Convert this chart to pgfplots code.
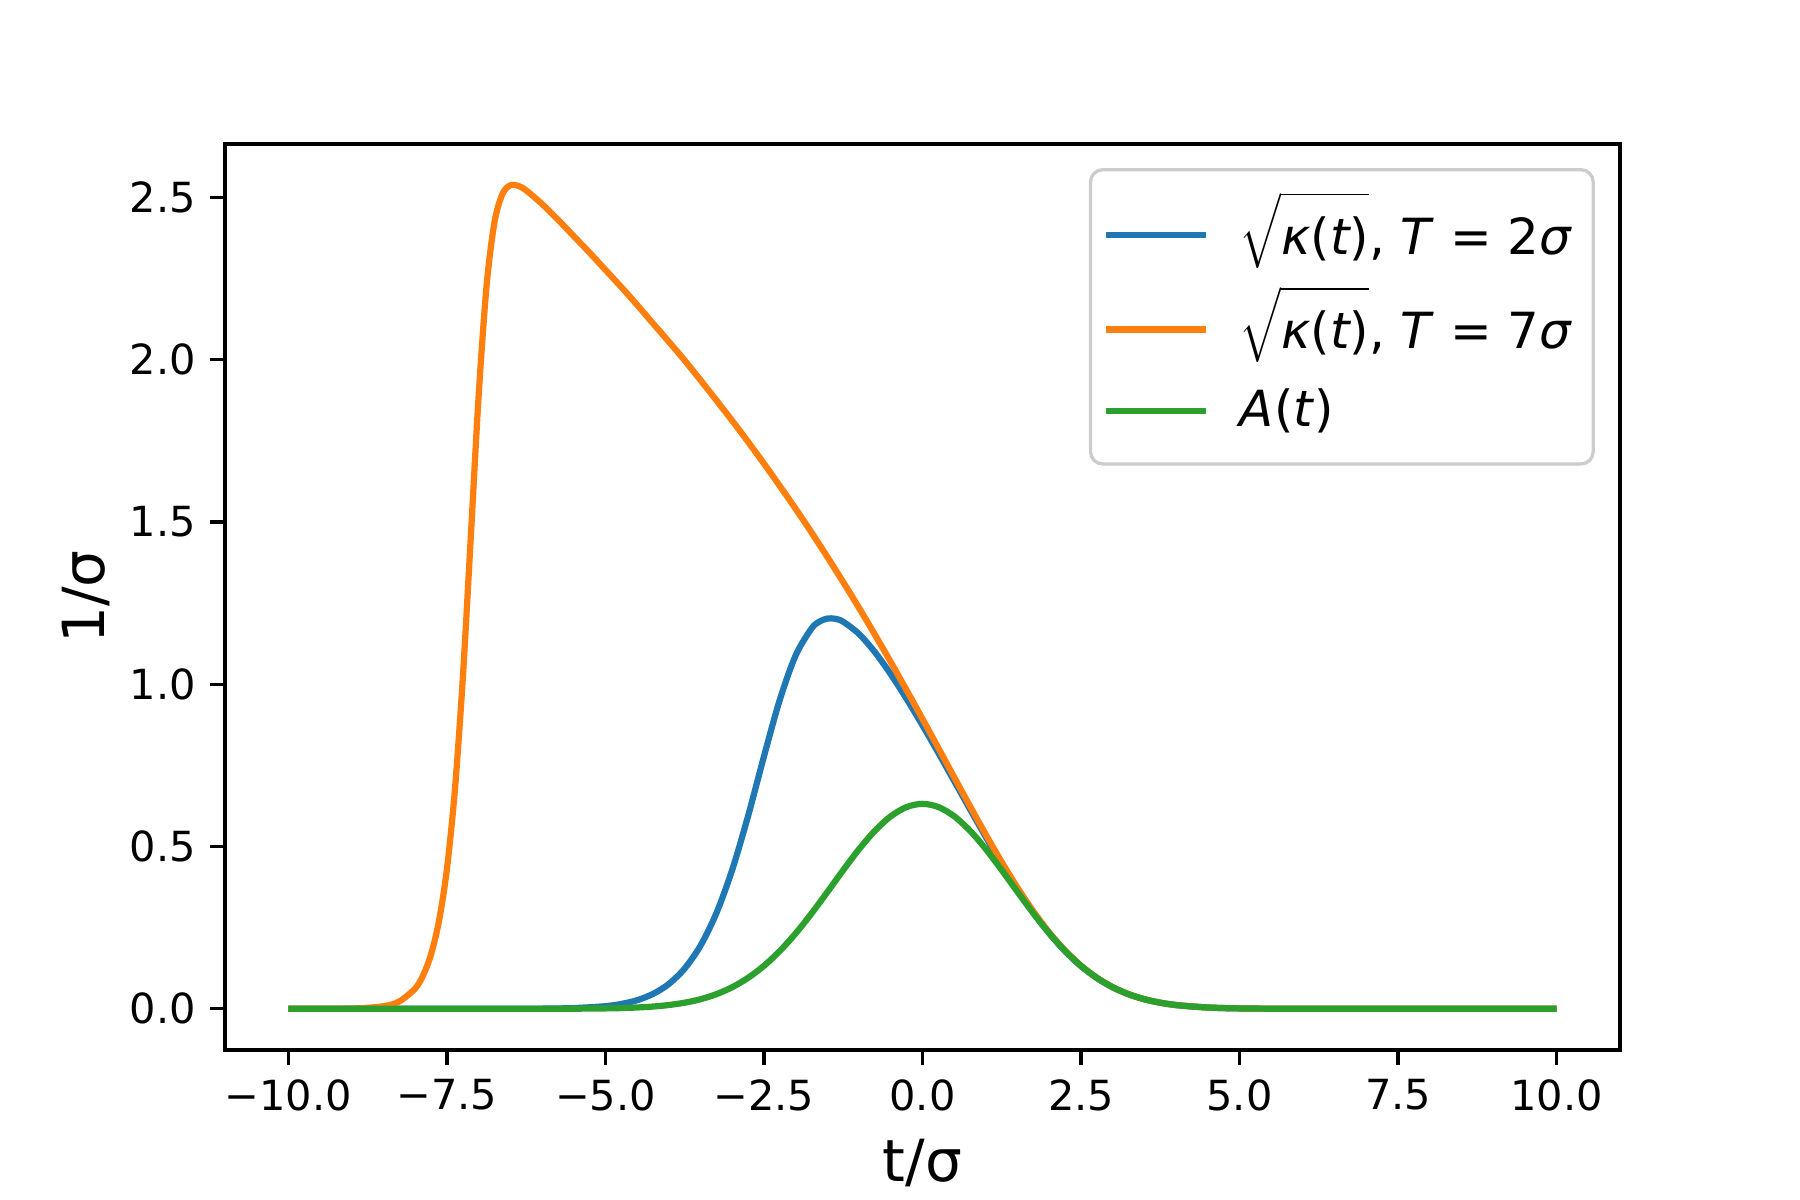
\documentclass[border=0pt]{standalone}
\usepackage{fontspec}
\setmainfont{DejaVu Sans}
\usepackage{pgfplots}
\pgfplotsset{compat=1.18}

\definecolor{cblue}{HTML}{1F77B4}
\definecolor{corange}{HTML}{FF7F0E}
\definecolor{cgreen}{HTML}{2CA02C}

\newcommand{\sqk}{\raisebox{0pt}[13pt][8.6pt]{$\sqrt{\rule{0pt}{12pt}\hbox{\itshape κ\upshape(\itshape t\upshape)}}$}}
\newcommand{\kentry}[1]{\raisebox{2.2pt}{\sqk, \textit{T} = #1\textit{σ}}}

\begin{document}
\begin{tikzpicture}
\path[use as bounding box] (0,0) rectangle (6in,4in);
\begin{axis}[
    at={(0.75in,0.5in)}, anchor=south west,
    width=4.65in, height=3.02in, scale only axis,
    xmin=-11, xmax=11, ymin=-0.127, ymax=2.665,
    xtick={-10,-7.5,-5,-2.5,0,2.5,5,7.5,10},
    xticklabels={−10.0,−7.5,−5.0,−2.5,0.0,2.5,5.0,7.5,10.0},
    ytick={0,0.5,1,1.5,2,2.5},
    yticklabels={0.0,0.5,1.0,1.5,2.0,2.5},
    xtick pos=bottom, ytick pos=left,
    tick align=outside, major tick length=3.5pt,
    tick style={line width=0.8pt, black},
    axis line style={line width=0.8pt},
    tick label style={font=\fontsize{10}{12}\selectfont},
    xlabel={t/σ}, ylabel={1/σ},
    label style={font=\fontsize{14}{17}\selectfont},
    ylabel style={yshift=-2pt},
    legend cell align=left,
    legend image code/.code={\draw[#1, line width=1.5pt] (0pt,0pt) -- (24pt,0pt);},
    legend style={at={(rel axis cs:0.982,0.9735)}, anchor=north east,
        draw=black!20, line width=0.8pt, rounded corners=3pt, fill=white,
        font=\fontsize{12}{14}\selectfont, inner xsep=3pt, inner ysep=5.45pt,
        row sep=2pt, column sep=5.5pt},
    every axis plot/.append style={line width=1.5pt, line join=round, smooth, tension=0.5},
]
% sqrt(kappa), T = 2 sigma
\addplot[cblue] coordinates {
(-10,0) (-6.5,0) (-6,0.0005) (-5.5,0.0022) (-5,0.0081) (-4.75,0.0149)
(-4.5,0.0265) (-4.25,0.0458) (-4,0.0766) (-3.75,0.1243) (-3.5,0.1949)
(-3.25,0.2949) (-3,0.4288) (-2.75,0.5945) (-2.5,0.7780) (-2.25,0.9526)
(-2,1.0893) (-1.75,1.1720) (-1.625,1.1933) (-1.5,1.2026) (-1.375,1.2019)
(-1.25,1.1927) (-1,1.1549) (-0.75,1.0989) (-0.5,1.0309) (-0.25,0.9549)
(0,0.8736) (0.25,0.7888) (0.5,0.7021) (0.75,0.6150) (1,0.5292)
(1.25,0.4463) (1.5,0.3681) (1.75,0.2963) (2,0.2324) (2.25,0.1772)
(2.5,0.1313) (2.75,0.0944) (3,0.0659) (3.25,0.0446) (3.5,0.0292)
(3.75,0.0186) (4,0.0114) (4.5,0.0040) (5,0.0012) (6,0.0001) (10,0)
};
\addlegendentry{\kentry{2}}
% sqrt(kappa), T = 7 sigma
\addplot[corange] coordinates {
(-10,0) (-9,0.0009) (-8.5,0.0080) (-8.25,0.0228) (-8,0.0628) (-7.875,0.1031)
(-7.75,0.1680) (-7.625,0.2707) (-7.5,0.4305) (-7.375,0.6732) (-7.25,1.0175)
(-7.125,1.4490) (-7,1.8890) (-6.875,2.2280) (-6.75,2.4240) (-6.625,2.5110)
(-6.5,2.5380) (-6.375,2.5360) (-6.25,2.5220) (-6,2.4800) (-5.75,2.4320)
(-5.5,2.3810) (-5.25,2.3300) (-5,2.2770) (-4.75,2.2240) (-4.5,2.1690)
(-4.25,2.1120) (-4,2.0555) (-3.75,1.9980) (-3.5,1.9370) (-3.25,1.8750)
(-3,1.8120) (-2.75,1.7470) (-2.5,1.6800) (-2.25,1.6110) (-2,1.5405)
(-1.75,1.4676) (-1.5,1.3923) (-1.25,1.3148) (-1,1.2350) (-0.75,1.1527)
(-0.5,1.0682) (-0.25,0.9816) (0,0.8932) (0.25,0.8036) (0.5,0.7136)
(0.75,0.6240) (1,0.5363) (1.25,0.4519) (1.5,0.3726) (1.75,0.2998)
(2,0.2350) (2.25,0.1793) (2.5,0.1328) (2.75,0.0955) (3,0.0666)
(3.25,0.0450) (3.5,0.0295) (3.75,0.0188) (4,0.0116) (4.5,0.0040)
(5,0.0012) (6,0.0001) (10,0)
};
\addlegendentry{\kentry{7}}
% A(t)
\addplot[cgreen] coordinates {
(-10,0) (-6,0.0001) (-5.5,0.0003) (-5,0.0012) (-4.75,0.0022) (-4.5,0.0040)
(-4.25,0.0069) (-4,0.0116) (-3.75,0.0188) (-3.5,0.0295) (-3.25,0.0450)
(-3,0.0666) (-2.75,0.0954) (-2.5,0.1324) (-2.25,0.1781) (-2,0.2324)
(-1.75,0.2937) (-1.5,0.3599) (-1.25,0.4274) (-1,0.4919) (-0.75,0.5487)
(-0.5,0.5933) (-0.25,0.6218) (0,0.6316) (0.25,0.6218) (0.5,0.5933)
(0.75,0.5487) (1,0.4919) (1.25,0.4274) (1.5,0.3599) (1.75,0.2937)
(2,0.2324) (2.25,0.1781) (2.5,0.1324) (2.75,0.0954) (3,0.0666)
(3.25,0.0450) (3.5,0.0295) (3.75,0.0188) (4,0.0116) (4.25,0.0069)
(4.5,0.0040) (4.75,0.0022) (5,0.0012) (5.5,0.0003) (6,0.0001) (10,0)
};
\addlegendentry{\textit{A}(\textit{t})}
\end{axis}
\end{tikzpicture}
\end{document}
